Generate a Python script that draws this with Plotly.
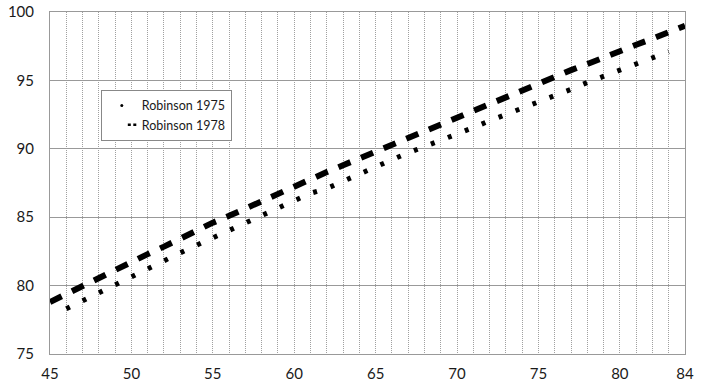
import plotly.graph_objects as go

# Robinson 1975 (dotted) at whole ages
ages_1975 = list(range(46, 84))
vals_1975 = [78.3, 78.9, 79.5, 80.1, 80.65, 81.25, 81.8, 82.4, 82.95, 83.5,
             84.05, 84.6, 85.15, 85.7, 86.2, 86.75, 87.1, 87.65, 88.15, 88.65,
             89.2, 89.7, 90.15, 90.6, 91.1, 91.55, 92.05, 92.5, 93.0, 93.45,
             93.9, 94.35, 94.85, 95.3, 95.75, 96.2, 96.7, 97.1]

# Robinson 1978 (dashed)
ages_1978 = list(range(45, 85))
vals_1978 = [78.8, 79.4, 79.95, 80.5, 81.1, 81.7, 82.3, 82.85, 83.45, 84.0,
             84.6, 85.1, 85.65, 86.15, 86.65, 87.2, 87.75, 88.3, 88.8, 89.3,
             89.85, 90.35, 90.85, 91.3, 91.8, 92.3, 92.8, 93.3, 93.8, 94.3,
             94.8, 95.25, 95.75, 96.2, 96.7, 97.15, 97.6, 98.05, 98.55, 99.0]

x_ticks = [45, 50, 55, 60, 65, 70, 75, 80, 84]
y_ticks = [75, 80, 85, 90, 95, 100]

fig = go.Figure()
fig.add_trace(go.Scatter(x=ages_1975, y=vals_1975, mode="lines", showlegend=False,
                         line=dict(color="black", width=5, dash="4px,14.2px")))
fig.add_trace(go.Scatter(x=ages_1978, y=vals_1978, mode="lines", showlegend=False,
                         line=dict(color="black", width=6, dash="13px,11.5px")))
# legend-only entries (small symbols close to the text, like the original key)
fig.add_trace(go.Scatter(x=[None], y=[None], mode="markers", name="Robinson 1975",
                         marker=dict(color="black", size=3)))
fig.add_trace(go.Scatter(x=[None], y=[None], mode="lines", name="Robinson 1978",
                         line=dict(color="black", width=2.5,
                                   dash="0px,21px,3px,2.5px,3px,100px")))

fig.update_layout(
    width=704, height=385,
    margin=dict(l=50, r=19, t=12, b=31),
    plot_bgcolor="white", paper_bgcolor="white",
    font=dict(family="Lato, Arial, sans-serif", color="#1a1a1a", size=15),
    legend=dict(x=0.08, y=0.772, xanchor="left", yanchor="top",
                bordercolor="#888", borderwidth=1, bgcolor="white",
                font=dict(size=12.5), itemwidth=30, tracegroupgap=0),
)
fig.update_xaxes(range=[45, 84], tickvals=x_ticks, showgrid=True, automargin=False,
                 gridcolor="#a0a0a0", gridwidth=1, griddash="1px,1px",
                 minor=dict(dtick=1, showgrid=True, gridcolor="#a0a0a0",
                            griddash="1px,1px", gridwidth=1),
                 showline=True, linecolor="#999", mirror=True,
                 zeroline=False, ticks="", ticklabelstandoff=6)
fig.update_yaxes(range=[75, 100], tickvals=y_ticks, showgrid=True, automargin=False,
                 gridcolor="#999", gridwidth=1,
                 showline=True, linecolor="#999", mirror=True,
                 zeroline=False, ticks="", ticklabelstandoff=12)

# drop the browser's default 8px body margin so the figure fills the window
fig.write_html("out.html", config={"displayModeBar": False},
               post_script="document.body.style.margin='0px';")
